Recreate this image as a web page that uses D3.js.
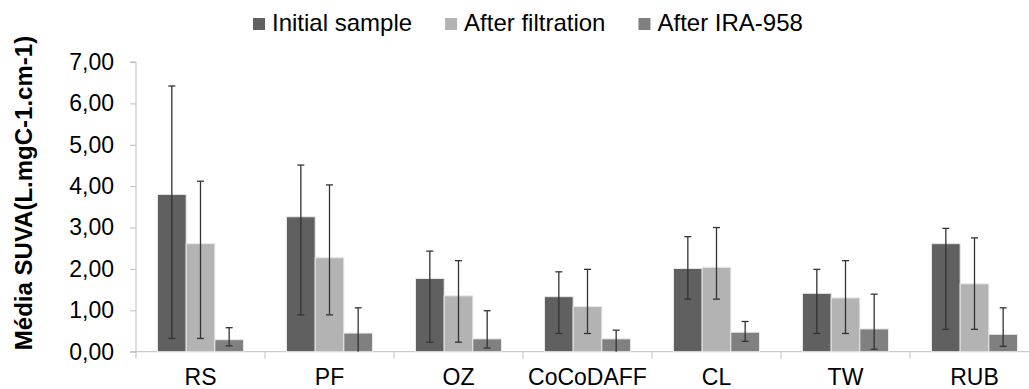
<!DOCTYPE html>
<html>
<head>
<meta charset="utf-8">
<script src="https://cdn.jsdelivr.net/npm/d3@7"></script>
<style>
  body { margin: 0; background: #fff; }
  svg { display: block; font-family: "Liberation Sans", Arial, sans-serif; }
</style>
</head>
<body>
<script>
const w = 1029,
  h = 389;

const categories = ['RS', 'PF', 'OZ', 'CoCoDAFF', 'CL', 'TW', 'RUB'];
const seriesNames = ['Initial sample', 'After filtration', 'After IRA-958'];
const seriesColors = ['#606060', '#b3b3b3', '#808080'];

// mean values per series
const initialSample = [3.80, 3.26, 1.77, 1.33, 2.01, 1.41, 2.61];
const afterFiltration = [2.61, 2.27, 1.35, 1.09, 2.04, 1.30, 1.64];
const afterIRA = [0.29, 0.45, 0.31, 0.31, 0.47, 0.55, 0.42];

// error bar ends (low / high) per series
const initialLow = [0.32, 0.89, 0.23, 0.44, 1.27, 0.44, 0.54];
const initialHigh = [6.42, 4.51, 2.43, 1.93, 2.78, 1.99, 2.98];
const filtrationLow = [0.32, 0.89, 0.23, 0.44, 1.27, 0.44, 0.54];
const filtrationHigh = [4.12, 4.03, 2.20, 1.99, 3.00, 2.20, 2.75];
const iraLow = [0.14, 0.00, 0.09, 0.00, 0.25, 0.06, 0.13];
const iraHigh = [0.58, 1.06, 0.99, 0.52, 0.73, 1.39, 1.06];

const yTicks = [0, 1, 2, 3, 4, 5, 6, 7];

const means = [initialSample, afterFiltration, afterIRA];
const lows = [initialLow, filtrationLow, iraLow];
const highs = [initialHigh, filtrationHigh, iraHigh];

const margin = { left: 136, right: -10, top: 62, bottom: 37 };

const svg = d3.select('body')
  .append('svg')
  .attr('width', w)
  .attr('height', h);

const x0 = d3.scaleBand()
  .domain(categories)
  .range([margin.left, w - margin.right])
  .paddingInner(0)
  .paddingOuter(0);

const x1 = d3.scaleBand()
  .domain(d3.range(seriesNames.length))
  .range([0, x0.bandwidth()])
  .paddingOuter(0.75)
  .paddingInner(0);

const y = d3.scaleLinear()
  .domain([0, 7])
  .range([h - margin.bottom - 0.3, margin.top]);

const fmt = d => d3.format('.2f')(d).replace('.', ',');

// y axis
const yAxis = d3.axisLeft(y)
  .tickValues(yTicks)
  .tickSize(6)
  .tickPadding(16)
  .tickFormat(fmt);

const gy = svg.append('g')
  .attr('transform', `translate(${margin.left},0)`)
  .call(yAxis);
gy.select('.domain').attr('stroke', '#bfbfbf').attr('d', `M-6,${y(7)}H0V${y(0)}`);
gy.selectAll('.tick line').attr('stroke', '#bfbfbf');
gy.selectAll('.tick text')
  .attr('font-size', '23px')
  .attr('fill', '#000')
  .attr('font-family', '"Liberation Sans", Arial, sans-serif');

// x axis
const gx = svg.append('g')
  .attr('transform', `translate(0,${y(0)})`);
gx.append('line')
  .attr('x1', margin.left - 6)
  .attr('x2', w)
  .attr('stroke', '#bfbfbf');
gx.selectAll('line.tk')
  .data(categories)
  .enter()
  .append('line')
  .attr('class', 'tk')
  .attr('x1', d => x0(d))
  .attr('x2', d => x0(d))
  .attr('y1', 0)
  .attr('y2', 7)
  .attr('stroke', '#bfbfbf');
gx.selectAll('text')
  .data(categories)
  .enter()
  .append('text')
  .text(d => d)
  .attr('x', d => x0(d) + x0.bandwidth() / 2)
  .attr('y', 33)
  .attr('text-anchor', 'middle')
  .attr('font-size', '23px')
  .attr('fill', '#000');

// bars
const groups = svg.selectAll('g.grp')
  .data(categories)
  .enter()
  .append('g')
  .attr('class', 'grp')
  .attr('transform', d => `translate(${x0(d)},0)`);

groups.selectAll('rect')
  .data((_, ci) => seriesNames.map((s, si) => ({ si, v: means[si][ci] })))
  .enter()
  .append('rect')
  .attr('x', d => x1(d.si))
  .attr('y', d => y(d.v))
  .attr('width', x1.bandwidth())
  .attr('height', d => y(0) - y(d.v))
  .attr('fill', d => seriesColors[d.si])
  .attr('stroke', '#e8e8e8')
  .attr('stroke-width', 1);

// error bars
const errs = groups.selectAll('g.err')
  .data((_, ci) => seriesNames.map((s, si) => ({ si, lo: lows[si][ci], hi: highs[si][ci] })))
  .enter()
  .append('g')
  .attr('class', 'err')
  .attr('transform', d => `translate(${x1(d.si) + x1.bandwidth() / 2},0)`)
  .attr('stroke', '#333')
  .attr('stroke-width', 1.3);

errs.append('line')
  .attr('y1', d => y(d.lo))
  .attr('y2', d => y(d.hi));
errs.append('line')
  .attr('x1', -3.5).attr('x2', 3.5)
  .attr('y1', d => y(d.hi)).attr('y2', d => y(d.hi));
errs.filter(d => d.lo > 0).append('line')
  .attr('x1', -3.5).attr('x2', 3.5)
  .attr('y1', d => y(d.lo)).attr('y2', d => y(d.lo));

// y title
svg.append('text')
  .attr('transform', 'translate(32,193) rotate(-90)')
  .attr('text-anchor', 'middle')
  .attr('font-size', '24px')
  .attr('font-weight', 'bold')
  .attr('fill', '#000')
  .text('Média SUVA(L.mgC-1.cm-1)');

// legend
const legend = svg.append('g')
  .attr('transform', 'translate(253,31)');
let lx = 0;
seriesNames.forEach((name, i) => {
  const item = legend.append('g').attr('transform', `translate(${lx},0)`);
  item.append('rect')
    .attr('x', 0)
    .attr('y', -13)
    .attr('width', 12)
    .attr('height', 12)
    .attr('fill', seriesColors[i]);
  const t = item.append('text')
    .attr('x', 19)
    .attr('y', 0)
    .attr('font-size', '24px')
    .attr('fill', '#000')
    .text(name);
  lx += 19 + t.node().getComputedTextLength() + 33;
});
</script>
</body>
</html>
